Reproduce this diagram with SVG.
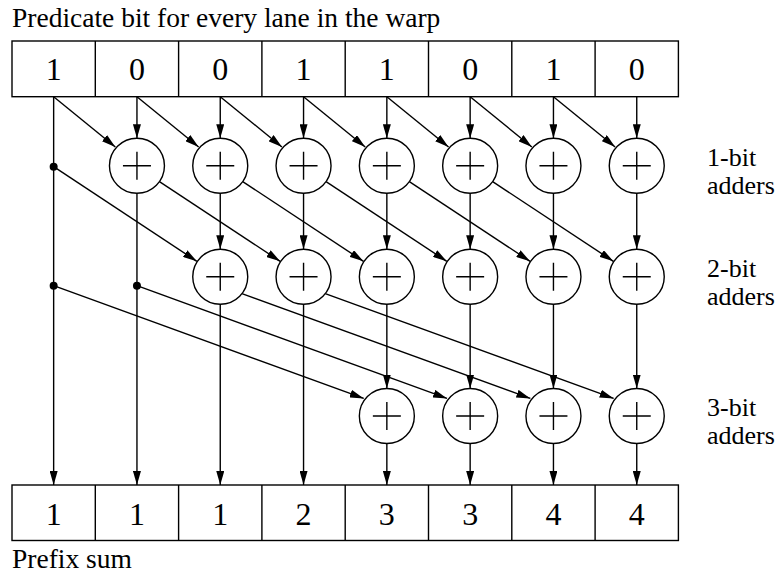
<svg xmlns="http://www.w3.org/2000/svg" width="782" height="574" viewBox="0 0 782 574">
<style>
.lbl{font-family:'Liberation Serif','Times New Roman','DejaVu Serif',serif;font-size:26px;fill:#000}
.big{font-family:'Liberation Serif','Times New Roman','DejaVu Serif',serif;font-size:27.5px;fill:#000}
.dig{font-family:'Liberation Serif','Times New Roman','DejaVu Serif',serif;font-size:32px;text-anchor:middle;fill:#000}
.box{fill:#fff;stroke:#000;stroke-width:1.4}
.c path{stroke:#000;stroke-width:1.4;fill:none;marker-end:url(#arr)}
.dot{fill:#000}
</style>
<defs>
<marker id="arr" viewBox="0 0 14 8" refX="14" refY="4" markerWidth="14" markerHeight="8" markerUnits="userSpaceOnUse" orient="auto"><path d="M0,0 L14,4 L0,8 z" fill="#000"/></marker>
<g id="adder"><circle r="27.5" fill="#fff" stroke="#000" stroke-width="1.4"/><path d="M-14,0 H14 M0,-14 V14" stroke="#000" stroke-width="1.4" fill="none"/></g>
</defs>

<text class="big" x="12" y="27">Predicate bit for every lane in the warp</text>

<g id="input">
<rect class="box" x="12" y="41" width="666.4" height="55.7"/>
<path d="M95.3,41 V96.7 M178.6,41 V96.7 M261.9,41 V96.7 M345.2,41 V96.7 M428.5,41 V96.7 M511.8,41 V96.7 M595.1,41 V96.7" stroke="#000" stroke-width="1.4"/>
<text class="dig" x="53.65" y="80">1</text>
<text class="dig" x="136.95" y="80">0</text>
<text class="dig" x="220.25" y="80">0</text>
<text class="dig" x="303.55" y="80">1</text>
<text class="dig" x="386.85" y="80">1</text>
<text class="dig" x="470.15" y="80">0</text>
<text class="dig" x="553.45" y="80">1</text>
<text class="dig" x="636.75" y="80">0</text>
</g>

<g id="connectors" class="c">
<path d="M53.65,96.7 V485"/>
<path d="M136.95,96.7 V138.2"/><path d="M136.95,193.2 V485"/>
<path d="M220.25,96.7 V138.2"/><path d="M220.25,193.2 V249.2"/><path d="M220.25,304.2 V485"/>
<path d="M303.55,96.7 V138.2"/><path d="M303.55,193.2 V249.2"/><path d="M303.55,304.2 V485"/>
<path d="M386.85,96.7 V138.2"/><path d="M386.85,193.2 V249.2"/><path d="M386.85,304.2 V388.5"/><path d="M386.85,443.5 V485"/>
<path d="M470.15,96.7 V138.2"/><path d="M470.15,193.2 V249.2"/><path d="M470.15,304.2 V388.5"/><path d="M470.15,443.5 V485"/>
<path d="M553.45,96.7 V138.2"/><path d="M553.45,193.2 V249.2"/><path d="M553.45,304.2 V388.5"/><path d="M553.45,443.5 V485"/>
<path d="M636.75,96.7 V138.2"/><path d="M636.75,193.2 V249.2"/><path d="M636.75,304.2 V388.5"/><path d="M636.75,443.5 V485"/>
<path d="M53.65,96.7 L115.35,147"/>
<path d="M136.95,96.7 L198.65,147"/>
<path d="M220.25,96.7 L281.95,147"/>
<path d="M303.55,96.7 L365.25,147"/>
<path d="M386.85,96.7 L448.55,147"/>
<path d="M470.15,96.7 L531.85,147"/>
<path d="M553.45,96.7 L615.15,147"/>
<path d="M53.65,166.7 L196.85,261.3"/>
<path d="M159.45,181.6 L280.15,261.3"/>
<path d="M242.75,181.6 L363.45,261.3"/>
<path d="M326.05,181.6 L446.75,261.3"/>
<path d="M409.35,181.6 L530.05,261.3"/>
<path d="M492.65,181.6 L613.35,261.3"/>
<path d="M53.65,285.7 L363.75,398.4"/>
<path d="M136.95,285.7 L447.05,398.4"/>
<path d="M241.95,293.6 L530.35,398.4"/>
<path d="M325.25,293.6 L613.65,398.4"/>
</g>

<g id="dots">
<circle class="dot" cx="53.65" cy="166.7" r="4"/>
<circle class="dot" cx="53.65" cy="285.7" r="4"/>
<circle class="dot" cx="136.95" cy="285.7" r="4"/>
</g>

<g id="adders1">
<use id="a1-1" href="#adder" x="136.95" y="165.7"/>
<use id="a1-2" href="#adder" x="220.25" y="165.7"/>
<use id="a1-3" href="#adder" x="303.55" y="165.7"/>
<use id="a1-4" href="#adder" x="386.85" y="165.7"/>
<use id="a1-5" href="#adder" x="470.15" y="165.7"/>
<use id="a1-6" href="#adder" x="553.45" y="165.7"/>
<use id="a1-7" href="#adder" x="636.75" y="165.7"/>
</g>
<g id="adders2">
<use id="a2-2" href="#adder" x="220.25" y="276.7"/>
<use id="a2-3" href="#adder" x="303.55" y="276.7"/>
<use id="a2-4" href="#adder" x="386.85" y="276.7"/>
<use id="a2-5" href="#adder" x="470.15" y="276.7"/>
<use id="a2-6" href="#adder" x="553.45" y="276.7"/>
<use id="a2-7" href="#adder" x="636.75" y="276.7"/>
</g>
<g id="adders3">
<use id="a3-4" href="#adder" x="386.85" y="416"/>
<use id="a3-5" href="#adder" x="470.15" y="416"/>
<use id="a3-6" href="#adder" x="553.45" y="416"/>
<use id="a3-7" href="#adder" x="636.75" y="416"/>
</g>

<g id="labels">
<text class="lbl" x="707" y="165.5">1-bit</text>
<text class="lbl" x="707" y="193.5">adders</text>
<text class="lbl" x="707" y="276.5">2-bit</text>
<text class="lbl" x="707" y="304.5">adders</text>
<text class="lbl" x="707" y="415.5">3-bit</text>
<text class="lbl" x="707" y="443.5">adders</text>
</g>

<g id="output">
<rect class="box" x="12" y="485" width="666.4" height="55.5"/>
<path d="M95.3,485 V540.5 M178.6,485 V540.5 M261.9,485 V540.5 M345.2,485 V540.5 M428.5,485 V540.5 M511.8,485 V540.5 M595.1,485 V540.5" stroke="#000" stroke-width="1.4"/>
<text class="dig" x="53.65" y="524.5">1</text>
<text class="dig" x="136.95" y="524.5">1</text>
<text class="dig" x="220.25" y="524.5">1</text>
<text class="dig" x="303.55" y="524.5">2</text>
<text class="dig" x="386.85" y="524.5">3</text>
<text class="dig" x="470.15" y="524.5">3</text>
<text class="dig" x="553.45" y="524.5">4</text>
<text class="dig" x="636.75" y="524.5">4</text>
</g>

<text class="big" x="12" y="568">Prefix sum</text>
</svg>
